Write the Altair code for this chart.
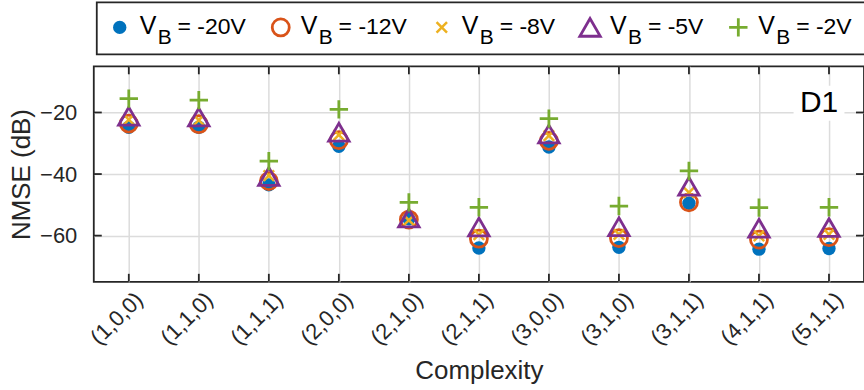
import altair as alt
import pandas as pd

# ---------------- data ----------------
categories = ["(1,0,0)", "(1,1,0)", "(1,1,1)", "(2,0,0)", "(2,1,0)", "(2,1,1)",
              "(3,0,0)", "(3,1,0)", "(3,1,1)", "(4,1,1)", "(5,1,1)"]
series_names = ["-20V", "-12V", "-8V", "-5V", "-2V"]

nmse_m20 = [-24.8, -24.8, -43.5, -31.0, -54.5, -64.0, -31.2, -63.8, -49.5, -64.4, -64.2]
nmse_m12 = [-23.6, -23.8, -42.3, -29.0, -54.8, -61.0, -29.2, -60.8, -49.2, -61.3, -60.5]
nmse_m8 = [-22.3, -22.5, -40.5, -27.3, -55.0, -59.7, -27.5, -59.6, -46.0, -60.1, -59.6]
nmse_m5 = [-21.2, -21.5, -40.8, -26.4, -54.3, -57.2, -27.0, -57.1, -44.0, -57.6, -57.4]
nmse_m2 = [-15.5, -16.0, -35.8, -19.0, -49.2, -50.8, -22.0, -50.4, -39.0, -50.9, -50.8]

y_ticks = [-60, -40, -20]
panel_label = "D1"

all_series = [nmse_m20, nmse_m12, nmse_m8, nmse_m5, nmse_m2]
rows = []
for name, vals in zip(series_names, all_series):
    for c, v in zip(categories, vals):
        rows.append({"cat": c, "series": name, "nmse": v})
df = pd.DataFrame(rows)

# ---------------- styling ----------------
W, H = 772, 216
FONT = "Liberation Sans"
DARK = "#262626"
GRID = "#dcdcdc"

styles = {
    "-20V": dict(shape="circle", filled=True, color="#0072BD", size=180, strokeWidth=0),
    "-12V": dict(shape="circle", filled=False, color="#D95319", size=290, strokeWidth=2.8),
    "-8V": dict(shape="M-1,-1L1,1M-1,1L1,-1", filled=False, color="#EDB120", size=110, strokeWidth=2.5),
    "-5V": dict(shape="triangle-up", filled=False, color="#7E2F8E", size=420, strokeWidth=2.8),
    "-2V": dict(shape="M-1,0L1,0M0,-1L0,1", filled=False, color="#77AC30", size=340, strokeWidth=2.8),
}

xscale = alt.Scale(type="point", domain=categories, padding=0.5)
yscale = alt.Scale(domain=[-75, -5], nice=False, zero=False)

x_enc = alt.X(
    "cat:N", scale=xscale, sort=categories,
    axis=alt.Axis(title="Complexity", labelAngle=-45, labelAlign="right",
                  labelBaseline="middle", labelFontSize=22, labelPadding=14,
                  labelOffset=10, ticks=False, tickSize=0, domain=False,
                  grid=True, gridColor=GRID, gridWidth=1.5,
                  titleFontSize=26, titlePadding=9, labelColor=DARK,
                  titleColor=DARK, titleFontWeight="normal", labelFont=FONT,
                  titleFont=FONT),
)
y_enc = alt.Y(
    "nmse:Q", scale=yscale,
    axis=alt.Axis(title="NMSE (dB)", values=y_ticks, labelFontSize=22,
                  labelPadding=17, ticks=False, tickSize=0, domain=False,
                  grid=True, gridColor=GRID, gridWidth=1.5,
                  titleFontSize=26, titlePadding=5, labelColor=DARK,
                  titleColor=DARK, titleFontWeight="normal", labelFont=FONT,
                  titleFont=FONT),
)

layers = []

# data markers
for name in series_names:
    st = styles[name]
    layers.append(
        alt.Chart(df).transform_filter(alt.datum.series == name)
        .mark_point(shape=st["shape"], filled=st["filled"], color=st["color"],
                    size=st["size"], strokeWidth=st["strokeWidth"], opacity=1)
        .encode(x=x_enc, y=y_enc)
    )

# panel label with white box
label_df = pd.DataFrame({"cat": ["(5,1,1)"], "nmse": [-17.0], "t": [panel_label]})
layers.append(
    alt.Chart(label_df).mark_point(shape="M-1,-0.686L1,-0.686L1,0.686L-1,0.686Z",
                                   filled=True, color="white", size=2601, opacity=1,
                                   xOffset=-10)
    .encode(x=x_enc, y=y_enc)
)
layers.append(
    alt.Chart(label_df).mark_text(font=FONT, fontSize=30, color="black", dx=-10,
                                  align="center", baseline="middle")
    .encode(x=x_enc, y=y_enc, text="t:N")
)

# inward ticks (box style)
cat_df = pd.DataFrame({"cat": categories})
tick_df = pd.DataFrame({"nmse": y_ticks})
layers.append(alt.Chart(cat_df).mark_rule(color=DARK, strokeWidth=1.8)
              .encode(x=x_enc, y=alt.value(0), y2=alt.value(8)))
layers.append(alt.Chart(cat_df).mark_rule(color=DARK, strokeWidth=1.8)
              .encode(x=x_enc, y=alt.value(H - 8), y2=alt.value(H)))
layers.append(alt.Chart(tick_df).mark_rule(color=DARK, strokeWidth=1.8)
              .encode(y=y_enc, x=alt.value(0), x2=alt.value(8)))
layers.append(alt.Chart(tick_df).mark_rule(color=DARK, strokeWidth=1.8)
              .encode(y=y_enc, x=alt.value(W - 8), x2=alt.value(W)))

# ---------------- legend (above plot) ----------------
LEG_FS = 23
legend_rows = []
pos = 26.0
for name in series_names:
    txt = "= " + name
    legend_rows.append({"series": name, "lx": pos, "vx": pos + 20, "bx": pos + 38,
                        "tx": pos + 58, "V": "V", "B": "B", "txt": txt})
    ndig = sum(ch.isdigit() for ch in name)
    pos += 58 + LEG_FS * (1.862 + 0.556 * ndig) + 35
leg_df = pd.DataFrame(legend_rows)

layers.append(
    alt.Chart(pd.DataFrame({"a": [0]})).mark_rect(fill="white", stroke=DARK, strokeWidth=1.8)
    .encode(x=alt.value(3), x2=alt.value(W + 20), y=alt.value(-64), y2=alt.value(-12))
)
for name in series_names:
    st = styles[name]
    layers.append(
        alt.Chart(leg_df).transform_filter(alt.datum.series == name)
        .mark_point(shape=st["shape"], filled=st["filled"], color=st["color"],
                    size=st["size"], strokeWidth=st["strokeWidth"], opacity=1)
        .encode(x=alt.X("lx:Q", scale=None), y=alt.value(-39))
    )
layers.append(
    alt.Chart(leg_df).mark_text(font=FONT, fontSize=25, color="black", align="left",
                                baseline="alphabetic")
    .encode(x=alt.X("vx:Q", scale=None), y=alt.value(-32), text="V:N")
)
layers.append(
    alt.Chart(leg_df).mark_text(font=FONT, fontSize=21, color="black", align="left",
                                baseline="alphabetic")
    .encode(x=alt.X("bx:Q", scale=None), y=alt.value(-22), text="B:N")
)
layers.append(
    alt.Chart(leg_df).mark_text(font=FONT, fontSize=LEG_FS, color="black", align="left",
                                baseline="alphabetic")
    .encode(x=alt.X("tx:Q", scale=None), y=alt.value(-32), text="txt:N")
)

chart = (
    alt.layer(*layers)
    .properties(width=W, height=H,
                autosize=alt.AutoSizeParams(type="none"),
                padding={"left": 94, "top": 66, "right": 0, "bottom": 108},
                background="white")
    .configure_view(stroke=DARK, strokeWidth=1.8)
)

chart.save("out.html", embed_options={"renderer": "svg", "actions": False})
